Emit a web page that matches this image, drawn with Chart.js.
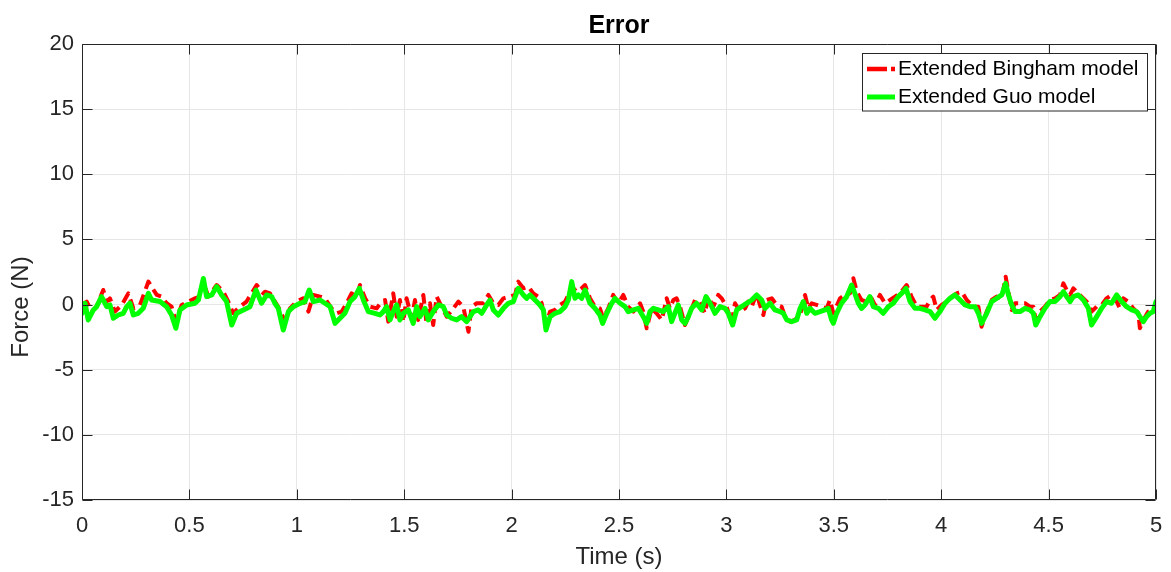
<!DOCTYPE html>
<html>
<head>
<meta charset="utf-8">
<script src="https://cdn.jsdelivr.net/npm/chart.js@4/dist/chart.umd.min.js"></script>
<style>
  html, body { margin: 0; padding: 0; background: #ffffff; }
  #wrap { width: 1171px; height: 572px; }
</style>
</head>
<body>
<div id="wrap"><canvas id="c" width="1171" height="572"></canvas></div>
<script>
// ---------- DATA ----------
const chartTitle = 'Error';
const xLabel = 'Time (s)';
const yLabel = 'Force (N)';
const seriesNames = ['Extended Bingham model', 'Extended Guo model'];

const xTickMin = 0, xTickMax = 5, xTickStep = 0.5;
const yTickMin = -15, yTickMax = 20, yTickStep = 5;

// Extended Bingham model (red, dashed)
const binghamT = [
  0.000, 0.022, 0.045, 0.068, 0.099, 0.115, 0.130, 0.153, 0.185, 0.216, 0.239, 0.270, 0.309, 0.348, 0.371, 0.394,
  0.417, 0.437, 0.464, 0.495, 0.526, 0.549, 0.565, 0.588, 0.627, 0.658, 0.681, 0.704, 0.735, 0.766, 0.813, 0.844,
  0.852, 0.875, 0.898, 0.922, 0.945, 0.968, 0.999, 1.030, 1.054, 1.077, 1.108, 1.131, 1.162, 1.186, 1.209, 1.232,
  1.255, 1.279, 1.294, 1.318, 1.341, 1.372, 1.395, 1.411, 1.426, 1.449, 1.465, 1.480, 1.496, 1.511, 1.535, 1.550,
  1.565, 1.589, 1.604, 1.620, 1.635, 1.651, 1.674,
  1.698, 1.729, 1.752, 1.775, 1.799, 1.814, 1.838, 1.869, 1.892, 1.915, 1.938, 1.962, 1.993, 2.016, 2.031, 2.055,
  2.078, 2.101, 2.124, 2.140, 2.160, 2.179, 2.202, 2.225, 2.249, 2.264, 2.280, 2.303, 2.326, 2.342, 2.365, 2.388,
  2.411, 2.427, 2.450, 2.473, 2.497,
  2.520, 2.543, 2.567, 2.598, 2.613, 2.629, 2.652, 2.675, 2.699, 2.722, 2.737, 2.753, 2.768, 2.784, 2.807, 2.830,
  2.854, 2.877, 2.900, 2.916, 2.939, 2.962, 2.978, 3.001, 3.024, 3.040, 3.063, 3.087, 3.102, 3.118, 3.141, 3.156,
  3.172, 3.187, 3.211, 3.234, 3.257, 3.273, 3.296, 3.319, 3.343,
  3.366, 3.381, 3.397, 3.420, 3.443, 3.467, 3.482, 3.498, 3.529, 3.552, 3.575, 3.591, 3.607, 3.629, 3.653, 3.676,
  3.691, 3.715, 3.738, 3.762, 3.785, 3.808, 3.839, 3.862, 3.886, 3.909, 3.932, 3.948, 3.963, 3.979, 4.002, 4.025,
  4.049, 4.072, 4.095, 4.119, 4.142, 4.157,
  4.173, 4.188, 4.212, 4.235, 4.258, 4.282, 4.300, 4.313, 4.328, 4.344, 4.367, 4.390, 4.413, 4.429, 4.440, 4.460,
  4.483, 4.506, 4.530, 4.553, 4.569, 4.584, 4.600, 4.615, 4.638, 4.662, 4.685, 4.700, 4.724, 4.747, 4.770, 4.793,
  4.817, 4.832, 4.848, 4.871, 4.894, 4.918, 4.925, 4.941, 4.964, 4.987, 5.000
];
const binghamV = [
  -0.03, 0.23, -0.54, -0.16, 1.12, 0.23, 0.48, -0.54, -0.03, 0.86, -0.29, -0.03, 1.76, 0.74, 0.61, 0.10,
  -0.16, -1.31, -0.03, 0.23, 0.48, 0.61, 1.76, 0.61, 1.50, 0.99, 0.23, -0.67, -0.16, 0.23, 1.50, 0.86,
  0.99, 0.86, 0.23, -0.41, -1.31, -0.29, 0.23, 0.48, -0.54, 0.74, 0.61, 0.48, -0.29, -0.67, -0.54, 0.10,
  0.86, 0.61, 1.50, 0.48, -0.16, -0.29, 0.23, 0.35, -1.31, 0.86, -0.93, 0.35, -1.31, 0.48, -1.05, 0.35,
  -1.18, 0.74, -1.44, 0.10, -1.57, 0.61, -0.16,
  -0.93, -0.29, 0.23, -0.16, -2.08, -0.16, 0.10, 0.10, 0.74, 0.10, -0.03, 0.48, 0.61, 0.74, 1.76, 1.25,
  1.38, 0.86, 0.61, 0.10, -1.57, -0.54, -0.41, -0.03, 0.23, 0.74, 1.38, 0.99, 1.25, 1.50, 0.48, -0.16,
  -0.29, -1.05, -0.29, 0.74, 0.10,
  0.74, -0.16, -0.54, 0.10, -0.54, -1.82, -0.29, -0.67, -1.18, 0.48, -0.29, 0.35, 0.48, -0.16, -1.57, -0.67,
  0.35, 0.23, -0.67, 0.61, -0.16, 0.74, 0.48, -0.16, -1.44, 0.10, -0.54, -0.29, 0.23, -0.16, 0.86, -0.03,
  -0.80, 0.35, 0.48, -0.03, -0.16, -0.93, -1.31, -1.18, -0.80,
  0.74, -0.29, 0.10, -0.03, -0.16, -0.29, 0.35, -0.67, 0.48, 0.74, 0.86, 2.02, 0.99, 0.35, 0.23, 0.48,
  -0.03, 0.74, 0.10, 0.35, 0.61, 0.86, 1.50, 0.61, -0.16, -0.16, -0.16, 0.35, 0.61, -0.41, -0.03, 0.23,
  0.61, 0.86, 0.99, 0.35, -0.03, -0.16,
  -0.16, -1.70, -0.54, 0.35, 0.61, 0.48, 2.14, 0.99, -0.41, 0.10, 0.10, 0.10, -0.16, -0.16, -1.18, -0.54,
  -0.16, 0.35, 0.48, 0.74, 1.63, 1.12, 0.74, 1.25, 0.86, 0.48, 0.10, -0.54, -0.16, -0.03, 0.48, 0.74,
  0.23, -0.29, 0.48, 0.23, -0.29, -0.67, -1.82, -1.18, -0.54, -0.41, -0.16
];

// Extended Guo model (green, solid)
const guoT = [
  0.000, 0.014, 0.029, 0.053, 0.068, 0.091, 0.115, 0.130, 0.146, 0.169, 0.192, 0.208, 0.223, 0.239, 0.262, 0.285,
  0.309, 0.324, 0.363, 0.394, 0.417, 0.437, 0.456, 0.487, 0.526, 0.542, 0.565, 0.580, 0.604, 0.627, 0.650, 0.673,
  0.697, 0.720, 0.751, 0.782, 0.810, 0.836,
  0.860, 0.883, 0.898, 0.914, 0.937, 0.961, 0.984, 1.015, 1.038, 1.058, 1.077, 1.108, 1.131, 1.155, 1.178, 1.201,
  1.224, 1.248, 1.271, 1.291, 1.310, 1.333, 1.364, 1.387, 1.403, 1.418, 1.434, 1.449, 1.465, 1.480, 1.496, 1.519,
  1.542, 1.558, 1.573, 1.597, 1.612, 1.635, 1.659,
  1.682, 1.698, 1.721, 1.744, 1.767, 1.791, 1.822, 1.845, 1.861, 1.884, 1.899, 1.915, 1.938, 1.962, 1.985, 2.008,
  2.031, 2.055, 2.070, 2.086, 2.109, 2.132, 2.148, 2.160, 2.179, 2.202, 2.225, 2.249, 2.264, 2.280, 2.295, 2.311,
  2.326, 2.342, 2.365, 2.388, 2.411, 2.424, 2.443, 2.466, 2.481, 2.505,
  2.528, 2.543, 2.567, 2.590, 2.613, 2.629, 2.644, 2.660, 2.683, 2.706, 2.729, 2.745, 2.760, 2.776, 2.792, 2.807,
  2.823, 2.838, 2.861, 2.885, 2.905, 2.924, 2.947, 2.970, 2.994, 3.009, 3.029, 3.048, 3.071, 3.094, 3.118, 3.141,
  3.164, 3.180, 3.203, 3.226, 3.250, 3.265, 3.281, 3.304, 3.327,
  3.343, 3.358, 3.374, 3.389, 3.412, 3.436, 3.459, 3.474, 3.490, 3.498, 3.513, 3.536, 3.560, 3.583, 3.598, 3.614,
  3.629, 3.645, 3.668, 3.684, 3.707, 3.730, 3.754, 3.777, 3.800, 3.824, 3.836, 3.855, 3.878, 3.901, 3.925, 3.948,
  3.971, 3.994, 4.018, 4.041, 4.064, 4.088, 4.111, 4.134,
  4.157, 4.173, 4.188, 4.212, 4.235, 4.258, 4.282, 4.300, 4.313, 4.328, 4.344, 4.367, 4.390, 4.413, 4.429, 4.440,
  4.460, 4.483, 4.506, 4.530, 4.553, 4.569, 4.584, 4.600, 4.615, 4.638, 4.662, 4.685, 4.700, 4.724, 4.747, 4.770,
  4.793, 4.817, 4.840, 4.863, 4.887, 4.910, 4.925, 4.941, 4.956, 4.972, 4.987, 5.000
];
const guoV = [
  -0.67, 0.10, -1.18, -0.41, -0.16, 0.61, -0.16, -0.03, -1.05, -0.80, -0.67, -0.16, 0.10, -0.80, -0.67, -0.29,
  0.86, 0.35, 0.23, -0.16, -0.80, -1.82, -0.41, -0.03, 0.10, 0.35, 2.00, 0.61, 0.74, 1.38, 0.74, 0.23,
  -1.57, -0.67, -0.41, -0.16, 1.12, 0.10,
  0.74, 0.61, 0.10, -0.29, -1.95, -0.54, -0.16, 0.10, 0.23, 1.12, 0.23, 0.35, 0.10, -0.16, -1.44, -1.05,
  -0.67, 0.23, 0.61, 1.25, 0.35, -0.54, -0.67, -0.80, -0.54, -0.16, -1.18, -0.54, -0.03, -1.18, -0.67, -0.41,
  -1.44, -0.16, -0.93, -0.29, -1.18, -0.54, -0.03,
  -0.16, -0.80, -1.05, -1.18, -0.93, -1.31, -0.54, -0.41, -0.67, -0.03, 0.35, -0.41, -0.80, -0.29, 0.10, 0.23,
  1.25, 0.74, 0.48, 0.74, 0.35, -0.03, -0.41, -1.95, -0.93, -0.67, -0.54, -0.16, 0.35, 1.76, 0.48, 0.74,
  0.48, 1.12, 0.10, -0.29, -0.80, -1.44, -0.67, 0.10, 0.48, 0.10,
  -0.16, -0.54, -0.41, -0.29, -0.93, -1.44, -0.54, -0.29, -0.41, -0.54, -0.16, -1.31, -0.67, -0.03, -1.18, -1.44,
  -0.93, -0.29, 0.10, -0.41, 0.61, 0.10, -0.67, -0.16, -0.29, -0.67, -1.57, -0.41, -0.16, 0.10, 0.35, 0.74,
  0.35, -0.29, 0.10, -0.41, -0.54, -0.67, -1.18, -1.31, -1.18,
  -0.30, 0.23, -0.67, -0.29, -0.67, -0.54, -0.41, -0.29, -1.18, -1.44, -0.67, 0.10, 0.61, 1.50, 0.86, 0.10,
  -0.29, -0.03, 0.61, -0.16, -0.29, -0.67, -0.16, 0.10, 0.61, 0.99, 1.25, 0.23, -0.29, -0.29, -0.41, -0.54,
  -1.05, -0.54, 0.10, 0.48, 0.74, 0.35, -0.03, -0.16,
  -0.16, -0.67, -1.44, -0.67, 0.23, 0.48, 0.74, 1.63, 0.74, -0.03, -0.54, -0.54, -0.29, -0.41, -0.67, -1.57,
  -0.93, -0.29, 0.23, 0.23, 0.61, 0.99, 0.61, 0.23, 0.61, 0.74, 0.35, -0.29, -1.57, -0.93, -0.29, 0.23,
  0.10, 0.74, 0.23, -0.16, -0.41, -0.54, -0.93, -1.31, -0.93, -0.67, -0.54, 0.23
];

// ---------- STYLE ----------
const FONT = '"Liberation Sans", Arial, Helvetica, sans-serif';
const AXIS_COLOR = '#262626';
const GRID_COLOR = '#e6e6e6';
const RED = '#ff0000';
const GREEN = '#00ff00';
const RED_DASH = [11, 6];

function pts(ts, vs) { return ts.map((t, i) => ({ x: t, y: vs[i] })); }

const framePlugin = {
  id: 'frame',
  afterDatasetsDraw(chart) {
    const { ctx, chartArea: a, scales } = chart;
    const L = Math.round(a.left) + 0.5, R = Math.round(a.right) - 0.5;
    const T = Math.round(a.top) + 0.5, B = Math.round(a.bottom) - 0.5;
    ctx.save();
    ctx.strokeStyle = AXIS_COLOR;
    ctx.lineWidth = 1;
    ctx.beginPath();
    ctx.rect(L, T, R - L, B - T);
    ctx.stroke();
    const tl = 10;
    ctx.beginPath();
    scales.x.ticks.forEach(tk => {
      const px = Math.round(scales.x.getPixelForValue(tk.value)) + 0.5;
      ctx.moveTo(px, B); ctx.lineTo(px, B - tl);
      ctx.moveTo(px, T); ctx.lineTo(px, T + tl);
    });
    scales.y.ticks.forEach(tk => {
      const py = Math.round(scales.y.getPixelForValue(tk.value)) + 0.5;
      ctx.moveTo(L, py); ctx.lineTo(L + tl, py);
      ctx.moveTo(R, py); ctx.lineTo(R - tl, py);
    });
    ctx.stroke();
    ctx.restore();
  },
  afterDraw(chart) {
    const { ctx } = chart;
    ctx.save();
    // y-axis title
    ctx.translate(21, 307);
    ctx.rotate(-Math.PI / 2);
    ctx.fillStyle = AXIS_COLOR;
    ctx.font = '24px ' + FONT;
    ctx.textAlign = 'center';
    ctx.textBaseline = 'middle';
    ctx.fillText(yLabel, 0, 0);
    ctx.restore();

    // legend
    ctx.save();
    const bx = 862.5, by = 53.5, bw = 285, bh = 57.5;
    ctx.fillStyle = '#ffffff';
    ctx.fillRect(bx, by, bw, bh);
    ctx.strokeStyle = AXIS_COLOR;
    ctx.lineWidth = 1;
    ctx.strokeRect(bx, by, bw, bh);
    const rows = [
      { y: 69, color: RED, dash: [20, 4], width: 4.5, label: seriesNames[0] },
      { y: 97, color: GREEN, dash: [], width: 5, label: seriesNames[1] }
    ];
    rows.forEach(r => {
      ctx.beginPath();
      ctx.setLineDash(r.dash);
      ctx.strokeStyle = r.color;
      ctx.lineWidth = r.width;
      ctx.lineCap = 'butt';
      ctx.moveTo(867, r.y);
      ctx.lineTo(895, r.y);
      ctx.stroke();
      ctx.setLineDash([]);
      ctx.fillStyle = '#000000';
      ctx.font = '21px ' + FONT;
      ctx.textAlign = 'left';
      ctx.textBaseline = 'middle';
      ctx.fillText(r.label, 898, r.y + 0.5);
    });
    ctx.restore();
  }
};

new Chart(document.getElementById('c'), {
  type: 'line',
  data: {
    datasets: [
      {
        label: seriesNames[0],
        data: pts(binghamT, binghamV),
        borderColor: RED,
        backgroundColor: RED,
        borderWidth: 4,
        borderDash: RED_DASH,
        borderJoinStyle: 'round',
        borderCapStyle: 'butt',
        pointRadius: 0,
        tension: 0,
        fill: false,
        order: 2
      },
      {
        label: seriesNames[1],
        data: pts(guoT, guoV),
        borderColor: GREEN,
        backgroundColor: GREEN,
        borderWidth: 5,
        borderJoinStyle: 'round',
        borderCapStyle: 'round',
        pointRadius: 0,
        tension: 0,
        fill: false,
        order: 1
      }
    ]
  },
  options: {
    responsive: false,
    animation: false,
    devicePixelRatio: 1,
    layout: { padding: { left: 0, right: 15, top: 0, bottom: 0 } },
    plugins: {
      legend: { display: false },
      tooltip: { enabled: false },
      title: {
        display: true,
        text: chartTitle,
        fullSize: false,
        color: '#000000',
        font: { family: FONT, size: 25, weight: 'bold' },
        padding: { top: 11, bottom: 3 }
      }
    },
    scales: {
      x: {
        type: 'linear',
        min: xTickMin,
        max: xTickMax,
        ticks: {
          stepSize: xTickStep,
          color: AXIS_COLOR,
          font: { family: FONT, size: 22 },
          padding: 13,
          maxRotation: 0,
          autoSkip: false,
          callback: v => String(Math.round(v * 10) / 10)
        },
        grid: { color: GRID_COLOR, drawTicks: false, lineWidth: 1 },
        border: { display: false },
        title: {
          display: true,
          text: xLabel,
          color: AXIS_COLOR,
          font: { family: FONT, size: 24 },
          padding: { top: 0, bottom: 0 }
        },
        afterFit(s) { s.height = 72; s.paddingLeft = 0; s.paddingRight = 0; }
      },
      y: {
        type: 'linear',
        min: yTickMin,
        max: yTickMax,
        ticks: {
          stepSize: yTickStep,
          color: AXIS_COLOR,
          font: { family: FONT, size: 22 },
          padding: 8,
          autoSkip: false,
          callback: v => String(v)
        },
        grid: { color: GRID_COLOR, drawTicks: false, lineWidth: 1 },
        border: { display: false },
        afterFit(s) { s.width = 82; s.paddingTop = 0; s.paddingBottom = 0; }
      }
    }
  },
  plugins: [framePlugin]
});
</script>
</body>
</html>
